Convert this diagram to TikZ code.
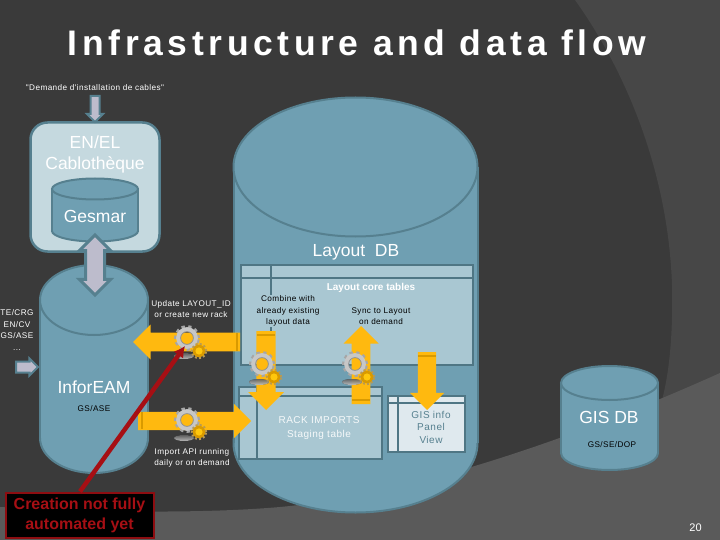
\documentclass[tikz,border=0pt]{standalone}
\usepackage{fontspec}
\usetikzlibrary{shapes.arrows,arrows.meta}
\setmainfont{Liberation Sans}
\newfontfamily\spc[LetterSpace=5]{Liberation Sans}
\newfontfamily\ttl[LetterSpace=13]{Liberation Sans}
\definecolor{bgdark}{HTML}{3A3A3A}
\definecolor{bgmid}{HTML}{474747}
\definecolor{bglow}{HTML}{5A5A5A}
\definecolor{cyl}{HTML}{6F9FB2}
\definecolor{cylline}{HTML}{56808F}
\definecolor{tbl}{HTML}{A9C7D2}
\definecolor{tblline}{HTML}{4F7684}
\definecolor{pale}{HTML}{C5D9DF}
\definecolor{panel}{HTML}{DFE9EE}
\definecolor{lilac}{HTML}{BDBCCC}
\definecolor{amber}{HTML}{FFB90F}
\definecolor{amberd}{HTML}{D99A00}
\definecolor{crimson}{HTML}{A60F14}
\definecolor{shade}{HTML}{6A6A60}
\newcommand{\cylinderat}[6]{% cx, rx, ry, top-centre y, bottom-centre y, line width
  \path[fill=cyl,draw=cylline,line width=#6] (#1,#5) ellipse [x radius=#2pt,y radius=#3pt];
  \fill[cyl] (#1-#2,#4) rectangle (#1+#2,#5);
  \draw[cylline,line width=#6] (#1-#2,#4) -- (#1-#2,#5) (#1+#2,#4) -- (#1+#2,#5);
  \path[fill=cyl,draw=cylline,line width=#6] (#1,#4) ellipse [x radius=#2pt,y radius=#3pt];
}
\newcommand{\gearpair}[4]{% big gear x,y; small gear x,y
  \fill[shade,opacity=.7] (#1-3,#2+18) ellipse [x radius=10pt,y radius=3pt];
  \draw[black!35!white,line width=3pt,dash pattern=on 3.3pt off 3.4pt] (#1,#2) circle [radius=11.5pt];
  \draw[black!22!white,line width=4.5pt] (#1,#2) circle [radius=8.6pt];
  \draw[black!45!white,line width=.7pt] (#1,#2) circle [radius=6.4pt];
  \draw[black!40!amber!70!white,line width=2.2pt,dash pattern=on 2pt off 2.1pt] (#3,#4) circle [radius=7pt];
  \fill[amberd] (#3,#4) circle [radius=6.2pt];
  \fill[amber!80!yellow] (#3,#4) circle [radius=3.6pt];
}
\tikzset{
  lbl/.style={align=center,inner sep=0pt,font=\spc\fontsize{8.2}{11.5}\selectfont},
  big/.style={align=center,inner sep=0pt,text=white,font=\fontsize{17.5}{21}\selectfont},
  tablebox/.style={draw=tblline,fill=tbl,line width=2pt,inner sep=0pt},
  tablerule/.style={draw=tblline,line width=2pt},
  yarrow/.style={single arrow,draw=none,fill=amber,inner xsep=0pt,inner ysep=9pt,outer sep=0pt,anchor=tip,single arrow head extend=8pt,single arrow head indent=0pt},
  band/.style={draw=amberd,line width=1.4pt},
  greyarrow/.style={single arrow,draw=cylline,fill=lilac,line width=2pt,inner xsep=0pt,outer sep=0pt,anchor=tip}
}
\begin{document}
\begin{tikzpicture}[x=1pt,y=-1pt]
\useasboundingbox (0,0) rectangle (720,540);
\fill[bgdark] (0,0) rectangle (720,540);
% background bands
\fill[bgmid] (575,0) .. controls (625,70) and (668,170) .. (672,285) .. controls (673,330) and (670,370) .. (662,400) -- (720,400) -- (720,0) -- cycle;
\fill[bglow] (0,507) .. controls (90,512) and (200,514) .. (280,507) .. controls (400,496) and (560,445) .. (720,373) -- (720,540) -- (0,540) -- cycle;

% title
\node[inner sep=0pt,text=white,font=\ttl\bfseries\fontsize{35.5}{40}\selectfont] (title) at (357,43) {Infrastructure and data flow};
\node[lbl,text=white] (demande) at (95,88) {"Demande d'installation de cables"};

% Layout DB
\cylinderat{355.5}{122}{69.5}{167}{443}{2pt}
\node[big] (layoutdb) at (356,252) {Layout\ \ DB};

% Cablotheque
\node[draw=cylline,fill=pale,line width=2.5pt,rounded corners=17pt,minimum width=129pt,minimum height=129pt,inner sep=0pt] (cablo) at (95,187) {};
\node[big] (cablotxt) at (95,154) {EN/EL\\Cablothèque};
\cylinderat{95}{43}{10.5}{189}{231}{2pt}
\node[big] (gesmar) at (95,216) {Gesmar};

% InforEAM
\cylinderat{94}{54}{35}{300}{438}{2pt}
\node[big] (infor) at (94,387) {InforEAM};
\node[lbl,text=black] (inforsub) at (94,409) {GS/ASE};

% GIS DB
\cylinderat{609.5}{48.5}{17}{383}{453}{2pt}
\node[big] (gisdb) at (609,417) {GIS DB};
\node[lbl,text=black] (gissub) at (612,445) {GS/SE/DOP};

% grey arrows
\node[greyarrow,inner ysep=3.5pt,rotate=-90,minimum height=26pt,minimum width=15pt,single arrow head extend=3.5pt,single arrow head indent=0pt] (reqarrow) at (95,122) {};
\node[double arrow,draw=cylline,fill=lilac,line width=3pt,inner xsep=0pt,inner ysep=8pt,rotate=90,minimum height=60pt,minimum width=28pt,double arrow head extend=6pt,double arrow head indent=0pt] (dbl) at (95,265) {};
\node[greyarrow,inner ysep=4.5pt,minimum height=22pt,minimum width=15pt,single arrow head extend=3pt,single arrow head indent=0pt] (tearrow) at (38,367) {};

% core tables
\node[tablebox,minimum width=232pt,minimum height=100pt] (core) at (357,315) {};
\draw[tablerule] (core.north west |- 0,278) -- (core.north east |- 0,278);
\draw[tablerule] (271,265) -- (271,365);
\node[text=white,inner sep=0pt,font=\bfseries\fontsize{10}{12}\selectfont] (coretxt) at (371,288) {Layout core tables};

% rack imports
\node[tablebox,minimum width=143pt,minimum height=72pt] (rack) at (310.5,423) {};
\draw[tablerule] (239,396) -- (382,396);
\draw[tablerule] (257,387) -- (257,459);
\node[align=center,inner sep=0pt,text=white!90!tbl,font=\spc\fontsize{10}{14}\selectfont] (racktxt) at (319,428) {RACK IMPORTS\\Staging table};

% GIS panel
\node[tablebox,fill=panel,minimum width=77pt,minimum height=56pt] (gispanel) at (426.5,424) {};
\draw[tablerule] (388,403) -- (465,403);
\draw[tablerule] (398,396) -- (398,452);
\node[align=center,inner sep=0pt,text=cylline,font=\spc\fontsize{10}{12.5}\selectfont] (gistxt) at (431,427) {GIS info\\Panel\\View};

% yellow arrows
\node[yarrow,rotate=180,minimum height=107pt,minimum width=35pt] (updarrow) at (133,342) {};
\draw[band] (237,333) -- (237,351);
\node[yarrow,minimum height=113pt,minimum width=33pt] (imparrow) at (251,421) {};
\draw[band] (142,412) -- (142,429);
\node[yarrow,rotate=-90,minimum height=79pt,minimum width=36pt] (cmbarrow) at (266,410) {};
\draw[band] (257,335) -- (275,335);
\node[yarrow,rotate=90,minimum height=78pt,minimum width=35pt] (syncarrow) at (361,326) {};
\draw[band] (352,400) -- (370,400);
\node[yarrow,rotate=-90,minimum height=58pt,minimum width=33pt] (gisarrow) at (427,410) {};
\draw[band] (418,356) -- (436,356);

% gears
\gearpair{187}{338}{199}{351}
\gearpair{187}{420}{199}{432}
\gearpair{262}{364}{274}{377}
\gearpair{355}{364}{367}{377}

% labels
\node[lbl,text=white] (updtxt) at (191,309) {Update LAYOUT\_ID\\or create new rack};
\node[lbl,text=black,fill=tbl,inner sep=1pt] (cmbtxt) at (288,311) {Combine with\\already existing\\layout data};
\node[lbl,text=black] (synctxt) at (381,316) {Sync to Layout\\on demand};
\node[lbl,text=white] (tetxt) at (17,330) {TE/CRG\\EN/CV\\GS/ASE\\...};
\node[lbl,text=white] (imptxt) at (192,458) {Import API running\\daily or on demand};

% red note
\node[draw=crimson!85!black,fill=black,line width=2pt,text=crimson,align=center,inner sep=0pt,minimum width=148pt,minimum height=45pt,font=\bfseries\fontsize{16}{20}\selectfont] (note) at (79.5,515) {Creation not fully\\automated yet};
\coordinate (gearhit) at (185,346);
\draw[crimson,line width=4.5pt,-{Latex[length=11pt,width=12pt]}] (note.north -| 80,492.5) -- (gearhit);

\node[inner sep=0pt,text=white,font=\fontsize{11}{13}\selectfont] (pageno) at (695.5,528) {20};
\end{tikzpicture}
\end{document}
